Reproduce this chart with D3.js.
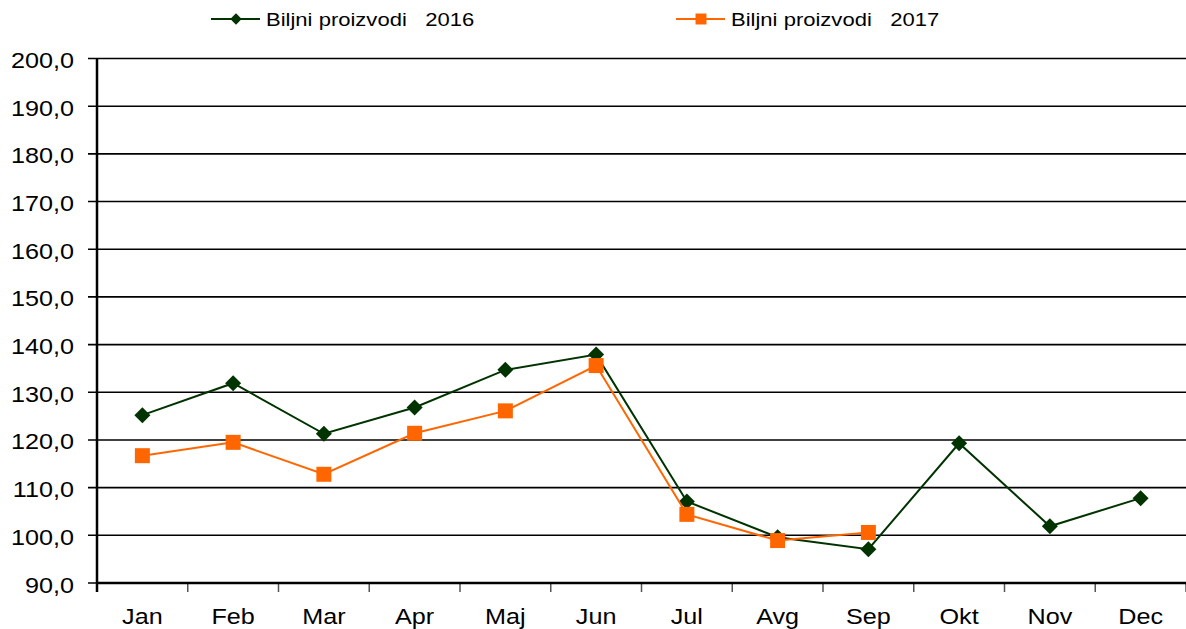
<!DOCTYPE html>
<html>
<head>
<meta charset="utf-8">
<script src="https://cdn.jsdelivr.net/npm/d3@7"></script>
<style>
  body { margin: 0; background: #fff; }
  text { font-family: "Liberation Sans", Arial, sans-serif; fill: #000; white-space: pre; }
</style>
</head>
<body>
<svg id="chart" width="1186" height="629"></svg>
<script>
// data
var months = ['Jan', 'Feb', 'Mar', 'Apr', 'Maj', 'Jun', 'Jul', 'Avg', 'Sep', 'Okt', 'Nov', 'Dec'];
var values2016 = [125.2, 131.9, 121.3, 126.8, 134.7, 137.9, 107.1, 99.6, 97.1, 119.3, 101.9, 107.8];
var values2017 = [116.7, 119.5, 112.8, 121.4, 126.1, 135.6, 104.4, 98.9, 100.6];
var yTicks = [90, 100, 110, 120, 130, 140, 150, 160, 170, 180, 190, 200];
var seriesNames = ['Biljni proizvodi   2016', 'Biljni proizvodi   2017'];

// layout
var plotLeft = 97, plotRight = 1186, plotTop = 58.5, plotBottom = 583;
var stretch = 1.12; // text in the original is slightly wide
var svg = d3.select('#chart');

var x = d3.scaleBand().domain(months).range([plotLeft, plotRight]);
var y = d3.scaleLinear().domain([90, 200]).range([plotBottom, plotTop]);

// horizontal gridlines
svg.append('g')
  .selectAll('line')
  .data(yTicks)
  .enter()
  .append('line')
  .attr('x1', plotLeft - 9)
  .attr('x2', plotRight)
  .attr('y1', function(d) { return y(d); })
  .attr('y2', function(d) { return y(d); })
  .style('stroke', '#000')
  .style('stroke-width', 1.6);

// y labels
svg.append('g')
  .selectAll('text')
  .data(yTicks)
  .enter()
  .append('text')
  .attr('transform', function(d) { return 'translate(74,' + (y(d) + 9.5) + ') scale(' + stretch + ',1)'; })
  .attr('text-anchor', 'end')
  .style('font-size', '22.5px')
  .text(function(d) { return d3.format('.1f')(d).replace('.', ','); });

// x axis tick marks at category bounds
var bounds = months.map(function(m) { return x(m); }).concat([plotRight]);
svg.append('g')
  .selectAll('line')
  .data(bounds)
  .enter()
  .append('line')
  .attr('x1', function(d) { return d; })
  .attr('x2', function(d) { return d; })
  .attr('y1', plotBottom)
  .attr('y2', plotBottom + 9)
  .style('stroke', '#555')
  .style('stroke-width', 1.5);

svg.append('line')
  .attr('x1', plotLeft).attr('x2', plotRight)
  .attr('y1', plotBottom).attr('y2', plotBottom)
  .style('stroke', '#000').style('stroke-width', 2.5);
svg.append('line')
  .attr('x1', plotLeft).attr('x2', plotLeft)
  .attr('y1', plotTop).attr('y2', plotBottom + 9)
  .style('stroke', '#000').style('stroke-width', 2.5);

// month labels
svg.append('g')
  .selectAll('text')
  .data(months)
  .enter()
  .append('text')
  .attr('transform', function(d) { return 'translate(' + (x(d) + x.bandwidth() / 2) + ',624) scale(' + stretch + ',1)'; })
  .attr('text-anchor', 'middle')
  .style('font-size', '22.5px')
  .text(function(d) { return d; });

var cx = function(d, i) { return x(months[i]) + x.bandwidth() / 2; };
var line = d3.line()
  .x(function(d, i) { return cx(d, i); })
  .y(function(d) { return y(d); });

var green = '#003300', orange = '#ff6600';

function drawSeries(data, color, shape, size) {
  svg.append('path')
    .datum(data)
    .attr('d', line)
    .style('fill', 'none')
    .style('stroke', color)
    .style('stroke-width', 2);
  svg.append('g')
    .selectAll('path')
    .data(data)
    .enter()
    .append('path')
    .attr('transform', function(d, i) { return 'translate(' + cx(d, i) + ',' + y(d) + ')'; })
    .attr('d', d3.symbol().type(shape).size(size))
    .style('fill', color);
}

var diamond = {
  draw: function(ctx, s) {
    var r = Math.sqrt(s) / 2;
    ctx.moveTo(0, -r); ctx.lineTo(r, 0); ctx.lineTo(0, r); ctx.lineTo(-r, 0); ctx.closePath();
  }
};

drawSeries(values2016, green, diamond, 256);
drawSeries(values2017, orange, d3.symbolSquare, 225);

// legend
function legendItem(lx, name, color, shape, size) {
  var g = svg.append('g');
  g.append('line')
    .attr('x1', lx).attr('x2', lx + 49)
    .attr('y1', 19).attr('y2', 19)
    .style('stroke', color).style('stroke-width', 2);
  g.append('path')
    .attr('transform', 'translate(' + (lx + 25) + ',19)')
    .attr('d', d3.symbol().type(shape).size(size))
    .style('fill', color);
  g.append('text')
    .attr('transform', 'translate(' + (lx + 55) + ',26) scale(' + 1.16 + ',1)')
    .attr('xml:space', 'preserve')
    .style('font-size', '19px')
    .text(name);
}
legendItem(211, seriesNames[0], green, diamond, 130);
legendItem(676, seriesNames[1], orange, d3.symbolSquare, 120);
</script>
</body>
</html>
